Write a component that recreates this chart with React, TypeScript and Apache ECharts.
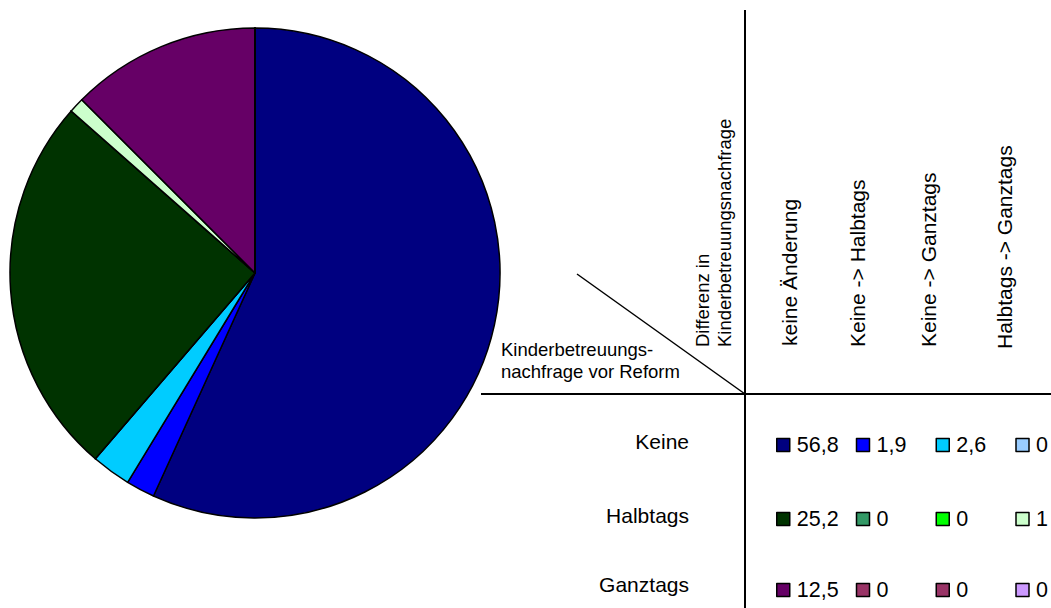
import React, { useEffect, useRef } from "react";
import * as echarts from "echarts";

const rowLabels = ["Keine", "Halbtags", "Ganztags"];
const colLabels = ["keine Änderung", "Keine -> Halbtags", "Keine -> Ganztags", "Halbtags -> Ganztags"];
const keineValues = [56.8, 1.9, 2.6, 0];
const halbtagsValues = [25.2, 0, 0, 1];
const ganztagsValues = [12.5, 0, 0, 0];
const keineColors = ["#000080", "#0000FF", "#00CCFF", "#99CCFF"];
const halbtagsColors = ["#003300", "#339966", "#00FF00", "#CCFFCC"];
const ganztagsColors = ["#660066", "#993366", "#993366", "#CC99FF"];
const cornerRowTitle = ["Kinderbetreuungs-", "nachfrage vor Reform"];
const cornerColTitle = ["Differenz in", "Kinderbetreuungsnachfrage"];

const FONT = "'Liberation Sans', Arial, sans-serif";

export default function App() {
  const ref = useRef<HTMLDivElement>(null);
  useEffect(() => {
    if (!ref.current) return;
    const chart = echarts.init(ref.current, undefined, { renderer: "svg" });
    const rows = [
      { label: rowLabels[0], values: keineValues, colors: keineColors },
      { label: rowLabels[1], values: halbtagsValues, colors: halbtagsColors },
      { label: rowLabels[2], values: ganztagsValues, colors: ganztagsColors },
    ];
    const pieData: any[] = [];
    const nameToText: Record<string, string> = {};
    const lastCol: Record<string, boolean> = {};
    const legendNames: string[][] = [];
    rows.forEach((r) => {
      const names: string[] = [];
      r.values.forEach((v, i) => {
        const name = `${r.label}: ${colLabels[i]}`;
        names.push(name);
        nameToText[name] = String(v).replace(".", ",");
        lastCol[name] = i === r.values.length - 1;
        pieData.push({ name, value: v, itemStyle: { color: r.colors[i] } });
      });
      legendNames.push(names);
    });
    const rowCenters = [445, 519, 590];
    const labelCenters = [441, 515, 584];
    const richBase = { fontFamily: FONT, fontSize: 21.5, color: "#000", lineHeight: 22 };
    const legends = legendNames.map((names, k) => ({
      data: names,
      left: 776,
      top: rowCenters[k] - 11,
      padding: 0,
      orient: "horizontal",
      itemWidth: 13,
      itemHeight: 13,
      itemGap: 5,
      icon: "rect",
      selectedMode: false,
      itemStyle: { borderColor: "#000", borderWidth: 1.5 },
      formatter: (n: string) => (lastCol[n] ? `{l|${nameToText[n]}}` : `{v|${nameToText[n]}}`),
      textStyle: {
        ...richBase,
        rich: {
          v: { ...richBase, width: 54, padding: [0, 0, 0, 2] },
          l: { ...richBase, width: 12, padding: [0, 0, 0, 2] },
        },
      },
    }));

    const graphics: any[] = [
      { type: "line", shape: { x1: 745, y1: 10, x2: 745, y2: 608 }, style: { stroke: "#000", lineWidth: 2 } },
      { type: "line", shape: { x1: 481, y1: 394, x2: 1051, y2: 394 }, style: { stroke: "#000", lineWidth: 2 } },
      { type: "line", shape: { x1: 577, y1: 274, x2: 745, y2: 394 }, style: { stroke: "#000", lineWidth: 1.5 } },
      {
        type: "text", x: 501, y: 349,
        style: { text: cornerRowTitle[0], font: `18.5px ${FONT}`, fill: "#000", textAlign: "left", textVerticalAlign: "middle" },
      },
      {
        type: "text", x: 501, y: 371,
        style: { text: cornerRowTitle[1], font: `18.5px ${FONT}`, fill: "#000", textAlign: "left", textVerticalAlign: "middle" },
      },
      {
        type: "text", x: 702, y: 347, rotation: Math.PI / 2,
        style: { text: cornerColTitle[0], font: `18.5px ${FONT}`, fill: "#000", textAlign: "left", textVerticalAlign: "middle" },
      },
      {
        type: "text", x: 724, y: 347, rotation: Math.PI / 2,
        style: { text: cornerColTitle[1], font: `18.5px ${FONT}`, fill: "#000", textAlign: "left", textVerticalAlign: "middle" },
      },
    ];
    const colX = [789, 857, 928, 1004];
    const colBottom = [346, 347, 347, 349];
    colLabels.forEach((c, i) => {
      graphics.push({
        type: "text", x: colX[i], y: colBottom[i], rotation: Math.PI / 2,
        style: { text: c, font: `21px ${FONT}`, fill: "#000", textAlign: "left", textVerticalAlign: "middle" },
      });
    });
    rowLabels.forEach((r, i) => {
      graphics.push({
        type: "text", x: 689, y: labelCenters[i],
        style: { text: r, font: `21px ${FONT}`, fill: "#000", textAlign: "right", textVerticalAlign: "middle" },
      });
    });

    chart.setOption({
      animation: false,
      legend: legends,
      graphic: graphics,
      series: [
        {
          type: "pie",
          center: [255, 273],
          radius: 245,
          startAngle: 90,
          clockwise: true,
          minAngle: 0,
          avoidLabelOverlap: false,
          label: { show: false },
          labelLine: { show: false },
          emphasis: { disabled: true },
          itemStyle: { borderColor: "#000", borderWidth: 1.5 },
          data: pieData,
        },
      ],
    });
    return () => chart.dispose();
  }, []);
  return (
    <div
      ref={ref}
      style={{ position: "fixed", left: 0, top: 0, width: 1051, height: 608, background: "#fff" }}
    />
  );
}
